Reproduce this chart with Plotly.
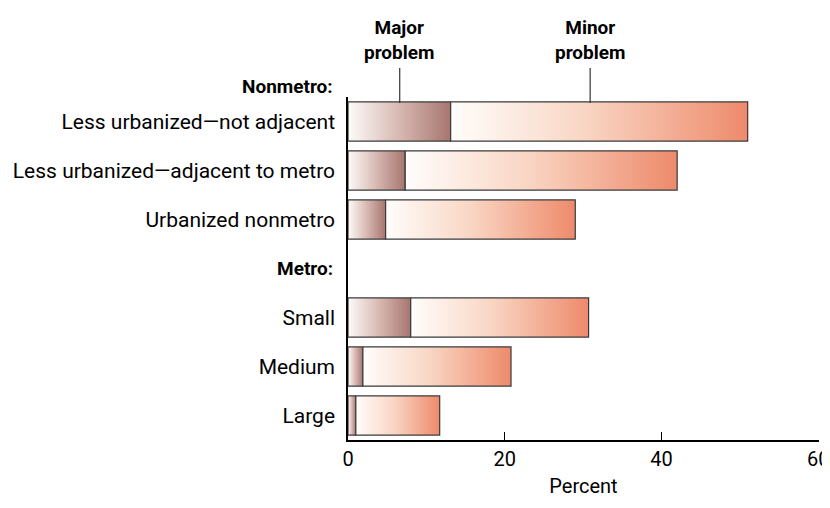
import plotly.graph_objects as go

categories = ["Less urbanized\u2014not adjacent", "Less urbanized\u2014adjacent to metro",
              "Urbanized nonmetro", "Small", "Medium", "Large"]
groups = ["Nonmetro", "Nonmetro", "Nonmetro", "Metro", "Metro", "Metro"]
major = [13.1, 7.3, 4.8, 8.0, 1.9, 1.0]
total = [51.0, 42.0, 29.0, 30.7, 20.8, 11.7]
minor = [t - m for t, m in zip(total, major)]
x_ticks = [0, 20, 40, 60]

FONT = "Roboto, sans-serif"
major_scale = [[0, "#fdfbf8"], [0.5, "#d8b8b2"], [1, "#a6766f"]]
minor_scale = [[0, "#fffdfb"], [0.45, "#f9d6c4"], [1, "#ee8a6b"]]

# row positions: leave a gap row for the "Metro:" header
ypos = []
for i, g in enumerate(groups):
    ypos.append(i + (1 if g == "Metro" else 0))
metro_row = 3

fig = go.Figure()
h = 0.4
for y, m, mi in zip(ypos, major, minor):
    for x0, x1, cs in [(0, m, major_scale), (m, m + mi, minor_scale)]:
        fig.add_trace(go.Scatter(
            x=[x0, x1, x1, x0, x0], y=[y - h, y - h, y + h, y + h, y - h],
            mode="lines", fill="toself",
            line=dict(color="#3a3a3a", width=1.2),
            fillgradient=dict(type="horizontal", colorscale=cs, start=x0, stop=x1),
            hoverinfo="skip", showlegend=False,
        ))

# range slightly past 60 so the end tick is not dropped
fig.update_xaxes(range=[0, 60.1], tickvals=x_ticks, ticks="inside", ticklen=8,
                 tickcolor="black", showline=True, linecolor="black", linewidth=1.5,
                 showgrid=False, zeroline=False, automargin=False,
                 ticklabeloverflow="allow",
                 title=dict(text="Percent", standoff=11, font=dict(size=20)),
                 tickfont=dict(size=20))
fig.update_yaxes(range=[6.5, -0.5], tickvals=ypos, ticktext=categories, ticks="",
                 showline=True, linecolor="black", linewidth=1.5, showgrid=False,
                 zeroline=False, automargin=False, ticklabelstandoff=7,
                 tickfont=dict(size=21))

fig.add_annotation(text="<b>Nonmetro:</b>", xref="paper", yref="paper", x=0, y=1,
                   xanchor="right", yanchor="middle", xshift=-13, yshift=11,
                   showarrow=False, font=dict(size=19))
fig.add_annotation(text="<b>Metro:</b>", xref="paper", yref="y", x=0, y=metro_row,
                   xanchor="right", yanchor="middle", xshift=-13,
                   showarrow=False, font=dict(size=19))

for label, xc in [("Major<br>problem", 6.6), ("Minor<br>problem", 30.9)]:
    fig.add_annotation(text="<b>" + label + "</b>", x=xc, y=1.09, xref="x", yref="paper",
                       yanchor="bottom", showarrow=False, font=dict(size=19))
    fig.add_shape(type="line", x0=xc, x1=xc, y0=0.9825, y1=1.0845, xref="x", yref="paper",
                  line=dict(color="#333333", width=1.2))

# page body has an 8px margin, so the figure is drawn smaller and offset
fig.update_layout(
    width=822, height=490,
    margin=dict(l=340, r=11, t=89, b=58),
    plot_bgcolor="white", paper_bgcolor="white",
    font=dict(family=FONT, size=19, color="black"),
)
fig.write_html("out.html")
